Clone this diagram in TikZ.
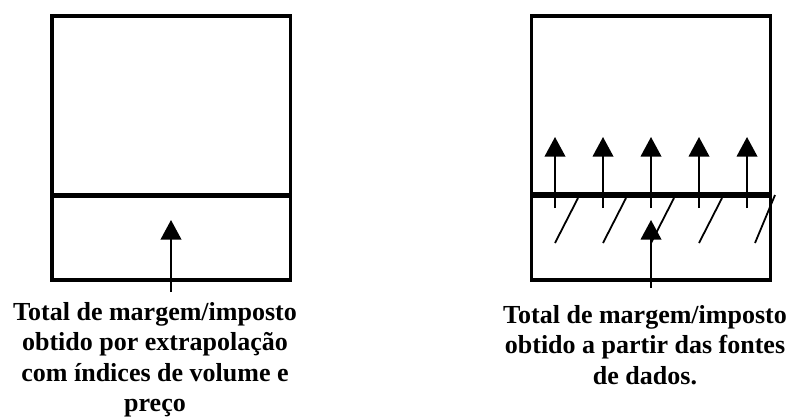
\documentclass[tikz,border=0pt]{standalone}
\usepackage{fontspec}
\setmainfont{Liberation Serif}
\usetikzlibrary{arrows.meta}
\begin{document}
\begin{tikzpicture}
[x=1pt,y=-1pt,
  boxdecorate/.style={draw,line width=3.5pt},%
  splitdecorate/.style={-,line width=5.6pt},%
  arrowdecorate/.style={line width=2pt,-{Triangle[width=20.5pt,length=19.5pt]}},%
  hatchdecorate/.style={-,line width=1.8pt},%
  labeldecorate/.style={align=center,anchor=base,inner sep=0pt,
    font=\fontsize{26}{30.5}\selectfont\bfseries}]
\useasboundingbox (0,0) rectangle (802,416);
%% boxes
\draw[boxdecorate] (52,16) rectangle (290.5,280);
\draw[boxdecorate] (531.5,16) rectangle (770.5,280);
\draw[splitdecorate] (52,195.5) -- (290.5,195.5);
%% hatching under the right split line
\foreach \x in {555,603,651,699} {
  \draw[hatchdecorate] (\x,243) -- (\x+23,198);
}
\draw[hatchdecorate] (755,243) -- (775,195);
\draw[splitdecorate] (531.5,195) -- (770.5,195);
%% arrow ends
\coordinate (ltail) at (171,292);
\coordinate (lhead) at (171,220);
\coordinate (rtail) at (651,288);
\coordinate (rhead) at (651,220);
\foreach \nodename/\x in {ua/555, ub/603, uc/651, ud/699, ue/747} {
  \coordinate (\nodename tail) at (\x,208);
  \coordinate (\nodename head) at (\x,137);
}
%% arrows
\path
\foreach \startnode/\endnode in {ltail/lhead, rtail/rhead, uatail/uahead,
  ubtail/ubhead, uctail/uchead, udtail/udhead, uetail/uehead} {
  (\startnode) edge[arrowdecorate] (\endnode)
};
%% labels (base = last line)
\node (ltext) [labeldecorate] at (155,411.5) {Total de margem/imposto\\obtido por extrapolação\\com índices de volume e\\preço};
\node (rtext) [labeldecorate] at (645,384) {Total de margem/imposto\\obtido a partir das fontes\\de dados.};
\end{tikzpicture}
\end{document}
